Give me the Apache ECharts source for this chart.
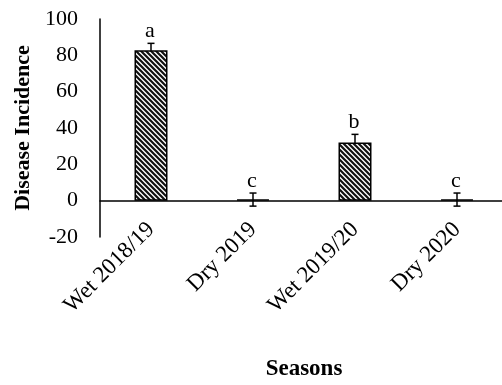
<!DOCTYPE html>
<html>
<head>
<meta charset="utf-8">
<script src="https://cdn.jsdelivr.net/npm/echarts@6/dist/echarts.min.js"></script>
<style>
html,body{margin:0;padding:0;background:#fff;}
#chart{width:502px;height:385px;}
</style>
</head>
<body>
<div id="chart"></div>
<script>
const categories = ['Wet 2018/19', 'Dry 2019', 'Wet 2019/20', 'Dry 2020'];
const incidence = [82.8, 0.6, 32, 0.6];
const errors = [3.8, 3.6, 4.5, 3.6];
const letters = ['a', 'c', 'b', 'c'];
const yMin = -20, yMax = 100, yInterval = 20;

// hatch pattern
const pc = document.createElement('canvas');
const s = 5;
pc.width = s; pc.height = s;
const ctx = pc.getContext('2d');
ctx.fillStyle = '#ffffff';
ctx.fillRect(0, 0, s, s);
ctx.strokeStyle = '#111111';
ctx.lineWidth = 2.2;
ctx.beginPath();
ctx.moveTo(-1, -1); ctx.lineTo(s + 1, s + 1);
ctx.moveTo(s - 1, -1); ctx.lineTo(s + 1, 1);
ctx.moveTo(-1, s - 1); ctx.lineTo(1, s + 1);
ctx.stroke();

const font = 'Liberation Serif, Times New Roman, serif';
const errData = categories.map((c, i) => [i, incidence[i] - errors[i], incidence[i] + errors[i], i]);

const chart = echarts.init(document.getElementById('chart'), null, {renderer: 'canvas'});
chart.setOption({
  animation: false,
  backgroundColor: '#ffffff',
  grid: {left: 100, top: 19, width: 408, height: 218, containLabel: false, outerBoundsMode: 'none'},
  xAxis: {
    type: 'category',
    data: categories,
    axisLine: {onZero: true, lineStyle: {color: '#000', width: 1.5}},
    axisTick: {show: false},
    axisLabel: {rotate: 45, margin: -11, fontSize: 23, color: '#000', fontFamily: font},
    name: 'Seasons',
    nameLocation: 'middle',
    nameGap: 121,
    nameTextStyle: {fontSize: 23, fontWeight: 'bold', color: '#000', fontFamily: font}
  },
  yAxis: {
    type: 'value',
    min: yMin, max: yMax, interval: yInterval,
    splitLine: {show: false},
    axisLine: {show: true, lineStyle: {color: '#000', width: 1.5}},
    axisTick: {show: false},
    axisLabel: {margin: 22, fontSize: 22, color: '#000', fontFamily: font},
    name: 'Disease Incidence',
    nameLocation: 'middle',
    nameGap: 54,
    nameTextStyle: {fontSize: 22, fontWeight: 'bold', color: '#000', fontFamily: font}
  },
  series: [
    {
      type: 'bar',
      data: incidence,
      barWidth: 33,
      z: 3,
      itemStyle: {color: {image: pc, repeat: 'repeat'}, borderColor: '#000', borderWidth: 1.5}
    },
    {
      type: 'custom',
      data: errData,
      z: 2,
      renderItem: function (params, api) {
        const x = api.value(0);
        const lo = api.coord([x, api.value(1)]);
        const hi = api.coord([x, api.value(2)]);
        const hw = 3.5;
        const style = {stroke: '#000', lineWidth: 1.5};
        return {
          type: 'group',
          children: [
            {type: 'line', shape: {x1: hi[0], y1: hi[1], x2: lo[0], y2: lo[1]}, style: style},
            {type: 'line', shape: {x1: hi[0] - hw, y1: hi[1], x2: hi[0] + hw, y2: hi[1]}, style: style},
            {type: 'line', shape: {x1: lo[0] - hw, y1: lo[1], x2: lo[0] + hw, y2: lo[1]}, style: style},
            {type: 'text', style: {text: letters[api.value(3)], x: hi[0] - 1, y: hi[1] - 1, align: 'center', verticalAlign: 'bottom', fontSize: 22, fill: '#000', fontFamily: font}}
          ]
        };
      }
    }
  ]
});
</script>
</body>
</html>
